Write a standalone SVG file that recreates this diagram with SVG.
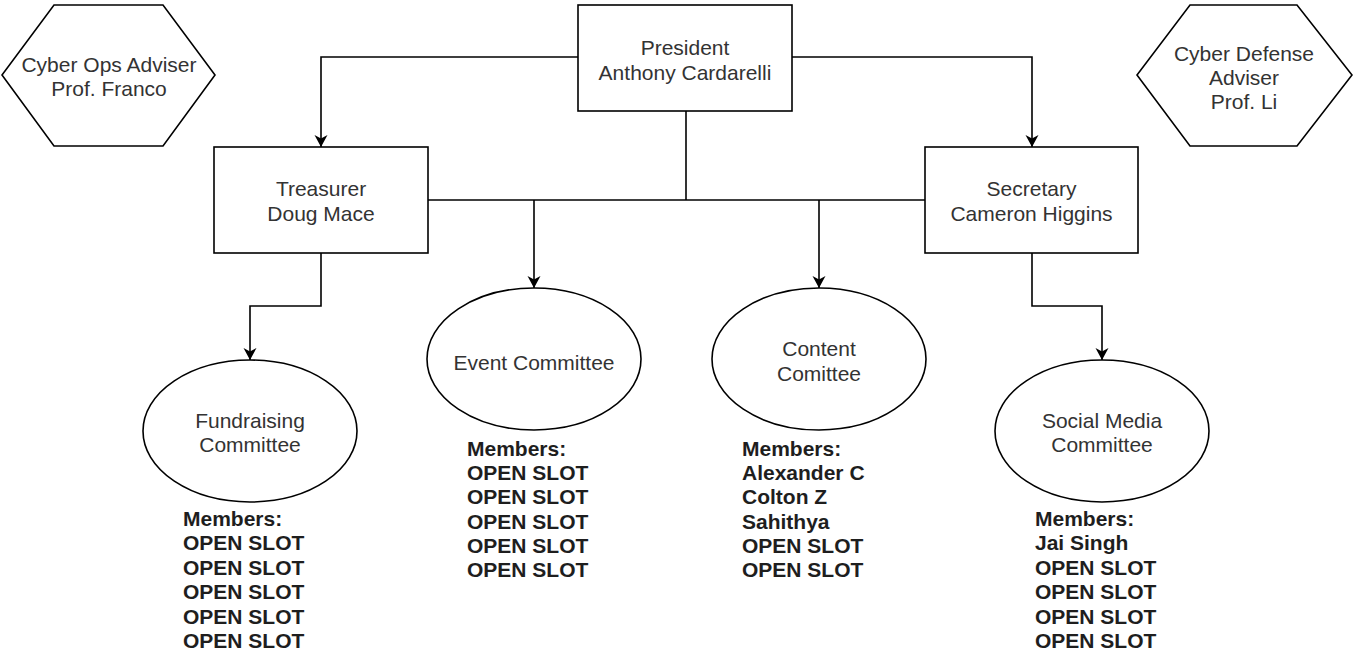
<svg xmlns="http://www.w3.org/2000/svg" width="1353" height="656" viewBox="0 0 1353 656">
<style>
.shape{fill:#ffffff;stroke:#000000;stroke-width:1.6}
.lbl{font-family:"Liberation Sans",Arial,sans-serif;font-size:21px;fill:#333333;text-anchor:middle}
.mem{font-family:"Liberation Sans",Arial,sans-serif;font-size:21px;font-weight:bold;fill:#1e1e1e}
.edge{fill:none;stroke:#000000;stroke-width:1.6}
</style>
<defs>
<marker id="arrow" markerUnits="userSpaceOnUse" markerWidth="14" markerHeight="14" refX="12" refY="7" orient="auto" viewBox="0 0 14 14">
<path d="M0,0.5 L12,7 L0,13.5 L3.5,7 Z" fill="#000000"/>
</marker>
</defs>
<rect width="1353" height="656" fill="#ffffff"/>
<g id="connectors">
<path class="edge" d="M578,57 H321 V147" marker-end="url(#arrow)"/>
<path class="edge" d="M792,57 H1032 V147" marker-end="url(#arrow)"/>
<path class="edge" d="M686,111 V200"/>
<path class="edge" d="M428,200 H925"/>
<path class="edge" d="M534,200 V288" marker-end="url(#arrow)"/>
<path class="edge" d="M819,200 V288" marker-end="url(#arrow)"/>
<path class="edge" d="M321,253 V306 H250 V360" marker-end="url(#arrow)"/>
<path class="edge" d="M1032,253 V306 H1102 V360" marker-end="url(#arrow)"/>
</g>
<g id="cyber-ops-adviser">
<polygon class="shape" points="54,5 163,5 215,75 163,146 54,146 2,75"/>
<text class="lbl" x="109" y="72">Cyber Ops Adviser</text>
<text class="lbl" x="109" y="96">Prof. Franco</text>
</g>
<g id="cyber-defense-adviser">
<polygon class="shape" points="1190,5 1297,5 1352,75 1297,146 1190,146 1137,75"/>
<text class="lbl" x="1244" y="61">Cyber Defense</text>
<text class="lbl" x="1244" y="85">Adviser</text>
<text class="lbl" x="1244" y="109">Prof. Li</text>
</g>
<g id="president">
<rect class="shape" x="578" y="5" width="214" height="106"/>
<text class="lbl" x="685" y="54.5">President</text>
<text class="lbl" x="685" y="79.5">Anthony Cardarelli</text>
</g>
<g id="treasurer">
<rect class="shape" x="214" y="147" width="214" height="106"/>
<text class="lbl" x="321" y="195.5">Treasurer</text>
<text class="lbl" x="321" y="220.5">Doug Mace</text>
</g>
<g id="secretary">
<rect class="shape" x="925" y="147" width="213" height="106"/>
<text class="lbl" x="1031.5" y="195.5">Secretary</text>
<text class="lbl" x="1031.5" y="220.5">Cameron Higgins</text>
</g>
<g id="fundraising-committee">
<ellipse class="shape" cx="250" cy="431" rx="107" ry="71"/>
<text class="lbl" x="250" y="427.5">Fundraising</text>
<text class="lbl" x="250" y="451.5">Committee</text>
</g>
<g id="event-committee">
<ellipse class="shape" cx="534" cy="359" rx="107" ry="71"/>
<text class="lbl" x="534" y="369.5">Event Committee</text>
</g>
<g id="content-committee">
<ellipse class="shape" cx="819" cy="359" rx="107" ry="71"/>
<text class="lbl" x="819" y="355.5">Content</text>
<text class="lbl" x="819" y="380.5">Comittee</text>
</g>
<g id="social-media-committee">
<ellipse class="shape" cx="1102" cy="431" rx="107" ry="71"/>
<text class="lbl" x="1102" y="427.5">Social Media</text>
<text class="lbl" x="1102" y="451.5">Committee</text>
</g>
<g id="fundraising-members">
<text class="mem" x="183" y="525.5">Members:</text>
<text class="mem" x="183" y="550">OPEN SLOT</text>
<text class="mem" x="183" y="574.5">OPEN SLOT</text>
<text class="mem" x="183" y="599">OPEN SLOT</text>
<text class="mem" x="183" y="623.5">OPEN SLOT</text>
<text class="mem" x="183" y="648">OPEN SLOT</text>
</g>
<g id="event-members">
<text class="mem" x="467" y="456">Members:</text>
<text class="mem" x="467" y="480.2">OPEN SLOT</text>
<text class="mem" x="467" y="504.4">OPEN SLOT</text>
<text class="mem" x="467" y="528.6">OPEN SLOT</text>
<text class="mem" x="467" y="552.8">OPEN SLOT</text>
<text class="mem" x="467" y="577">OPEN SLOT</text>
</g>
<g id="content-members">
<text class="mem" x="742" y="456">Members:</text>
<text class="mem" x="742" y="480.2">Alexander C</text>
<text class="mem" x="742" y="504.4">Colton Z</text>
<text class="mem" x="742" y="528.6">Sahithya</text>
<text class="mem" x="742" y="552.8">OPEN SLOT</text>
<text class="mem" x="742" y="577">OPEN SLOT</text>
</g>
<g id="social-media-members">
<text class="mem" x="1035" y="525.5">Members:</text>
<text class="mem" x="1035" y="550">Jai Singh</text>
<text class="mem" x="1035" y="574.5">OPEN SLOT</text>
<text class="mem" x="1035" y="599">OPEN SLOT</text>
<text class="mem" x="1035" y="623.5">OPEN SLOT</text>
<text class="mem" x="1035" y="648">OPEN SLOT</text>
</g>
</svg>
